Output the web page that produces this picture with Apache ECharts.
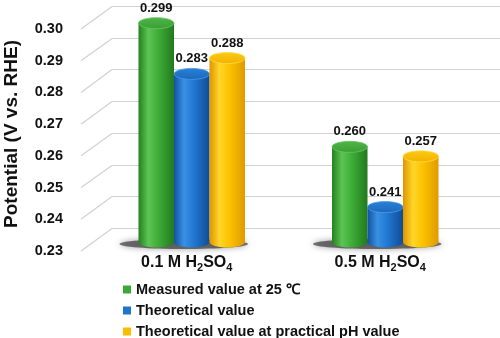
<!DOCTYPE html>
<html>
<head>
<meta charset="utf-8">
<script src="https://cdn.jsdelivr.net/npm/echarts@6/dist/echarts.min.js"></script>
<style>
  html, body { margin: 0; padding: 0; background: #ffffff; }
  #chart { width: 500px; height: 338px; }
</style>
</head>
<body>
<div id="chart"></div>
<script>
// Equilibrium potentials in two sulfuric acid electrolytes
const categories = ['0.1 M H2SO4', '0.5 M H2SO4'];
const seriesNames = ['Measured value at 25 ℃', 'Theoretical value', 'Theoretical value at practical pH value'];
const measured = [0.299, 0.260];
const theoretical = [0.283, 0.241];
const practical = [0.288, 0.257];
const tickLabels = ['0.23', '0.24', '0.25', '0.26', '0.27', '0.28', '0.29', '0.30'];

const FONT = '"Liberation Sans", Arial, sans-serif';
const INK = '#111111';
const GRID_COLOR = '#d2d2d2';
const yMin = parseFloat(tickLabels[0]);
const yMax = parseFloat(tickLabels[tickLabels.length - 1]);
const BAR_W = 35.5;          // cylinder diameter in px
const CAP_RY = 5.5;          // vertical radius of the elliptical caps
const DEPTH = [31, -23];     // offset from the front edge to the back wall

// Per-series cylinder shading: horizontal body gradient + cap colours
const palettes = [
  { flat: '#3aa935',
    body: [[0, '#24801f'], [0.28, '#5cc553'], [0.55, '#40ad39'], [1, '#217a1d']],
    cap: ['#4fb648', '#3b9d35'], rim: '#66c85d' },
  { flat: '#1f74cd',
    body: [[0, '#1152a0'], [0.28, '#3990e4'], [0.55, '#2179d2'], [1, '#104c96']],
    cap: ['#2a80d8', '#1b68bd'], rim: '#4a9ae6' },
  { flat: '#f8bd00',
    body: [[0, '#e19400'], [0.28, '#ffd62a'], [0.55, '#fcc300'], [1, '#e09a00']],
    cap: ['#fdca12', '#f2b100'], rim: '#ffda4a' }
];

function gradient(x2, y2, stops) {
  return new echarts.graphic.LinearGradient(0, 0, x2, y2,
    stops.map(s => ({ offset: s[0], color: s[1] })));
}

// Draws one cylinder (body, rounded bottom, top cap, value label)
function cylinder(idx) {
  const pal = palettes[idx];
  return function (params, api) {
    const cat = api.value(0);
    const val = api.value(1);
    const base = api.coord([cat, yMin]);
    const top = api.coord([cat, val]);
    const cx = base[0] + (idx - 1) * BAR_W;
    const children = [];
    if (idx === 0) {
      // floor shadow under the whole group, cast to the left
      children.push({
        type: 'ellipse',
        shape: { cx: cx + BAR_W - 8, cy: base[1] + 2, rx: BAR_W * 1.5 + 11, ry: 5 },
        style: { fill: 'rgba(60,60,60,0.7)', shadowBlur: 6, shadowColor: 'rgba(0,0,0,0.55)' }
      });
    }
    children.push({
      type: 'ellipse',
      shape: { cx: cx, cy: base[1], rx: BAR_W / 2, ry: CAP_RY },
      style: { fill: gradient(1, 0, pal.body) }
    });
    children.push({
      type: 'rect',
      shape: { x: cx - BAR_W / 2, y: top[1], width: BAR_W, height: base[1] - top[1] },
      style: { fill: gradient(1, 0, pal.body) }
    });
    children.push({
      type: 'ellipse',
      shape: { cx: cx, cy: top[1], rx: BAR_W / 2, ry: CAP_RY },
      style: { fill: gradient(0, 1, [[0, pal.cap[0]], [1, pal.cap[1]]]), stroke: pal.rim, lineWidth: 0.8 }
    });
    children.push({
      type: 'text',
      x: cx,
      y: top[1] - CAP_RY - 3,
      style: {
        text: val.toFixed(3), fill: INK, font: 'bold 13px ' + FONT,
        align: 'center', verticalAlign: 'bottom'
      }
    });
    return { type: 'group', children: children };
  };
}

const valueSets = [measured, theoretical, practical];
const cylinderSeries = valueSets.map((vals, i) => ({
  type: 'custom',
  name: seriesNames[i],
  xAxisIndex: 1,
  yAxisIndex: 1,
  itemStyle: { color: palettes[i].flat },
  renderItem: cylinder(i),
  data: vals.map((v, c) => [c, v]),
  z: 5
}));

// Gridlines: slanted on the side wall from each tick label, then level along the back wall
const wallSeries = {
  type: 'custom',
  xAxisIndex: 0,
  yAxisIndex: 0,
  silent: true,
  renderItem: function (params, api) {
    const p = api.coord([0, api.value(1)]);
    const right = api.getWidth();
    const cx = p[0] + DEPTH[0];
    const cy = Math.round(p[1] + DEPTH[1]) + 0.5;
    return {
      type: 'group',
      children: [
        { type: 'line', shape: { x1: p[0], y1: p[1], x2: cx, y2: cy },
          style: { stroke: GRID_COLOR, lineWidth: 1.2 } },
        { type: 'line', shape: { x1: cx, y1: cy, x2: right, y2: cy },
          style: { stroke: GRID_COLOR, lineWidth: 1 } }
      ]
    };
  },
  data: tickLabels.map(t => [0, parseFloat(t)]),
  z: 1
};

const chart = echarts.init(document.getElementById('chart'), null, { renderer: 'canvas' });

chart.setOption({
  animation: false,
  backgroundColor: '#ffffff',
  textStyle: { fontFamily: FONT },
  grid: [
    // front edge: value labels and wall lines
    { left: 81, right: 0, top: 29, bottom: 87 },
    // cylinders
    { left: 95, right: 18, top: 20, bottom: 96 }
  ],
  xAxis: [
    { gridIndex: 0, type: 'value', min: 0, max: 1, show: false },
    {
      gridIndex: 1, type: 'category', data: categories,
      axisLine: { show: false }, axisTick: { show: false },
      axisLabel: {
        margin: 10,
        padding: [0, 10, 0, 0],
        color: INK,
        fontFamily: FONT,
        fontSize: 16,
        fontWeight: 'bold',
        formatter: s => s.replace(/([A-Z])(\d)/g, '$1{s|$2}'),
        rich: {
          s: { fontSize: 11, fontWeight: 'bold', fontFamily: FONT, color: INK, padding: [10, 0, 0, 0] }
        }
      }
    }
  ],
  yAxis: [
    {
      gridIndex: 0, type: 'value', min: yMin, max: yMax, interval: 0.01,
      axisLine: { show: false }, axisTick: { show: false }, splitLine: { show: false },
      axisLabel: {
        margin: 18, color: INK, fontFamily: FONT, fontSize: 14.5, fontWeight: 'bold',
        formatter: v => v.toFixed(2)
      }
    },
    {
      gridIndex: 1, type: 'value', min: yMin, max: yMax, interval: 0.01, show: false
    }
  ],
  legend: {
    orient: 'vertical',
    left: 118,
    top: 274,
    height: 120,
    itemWidth: 8,
    itemHeight: 8,
    itemGap: 0,
    icon: 'rect',
    data: seriesNames,
    textStyle: { color: INK, fontFamily: FONT, fontSize: 14.5, fontWeight: 'bold', lineHeight: 21 }
  },
  graphic: [{
    type: 'text',
    x: 12,
    y: 134,
    rotation: Math.PI / 2,
    style: {
      text: 'Potential (V vs. RHE)',
      font: 'bold 19px ' + FONT,
      fill: INK,
      align: 'center',
      verticalAlign: 'middle'
    }
  }],
  series: [wallSeries].concat(cylinderSeries)
});
</script>
</body>
</html>
